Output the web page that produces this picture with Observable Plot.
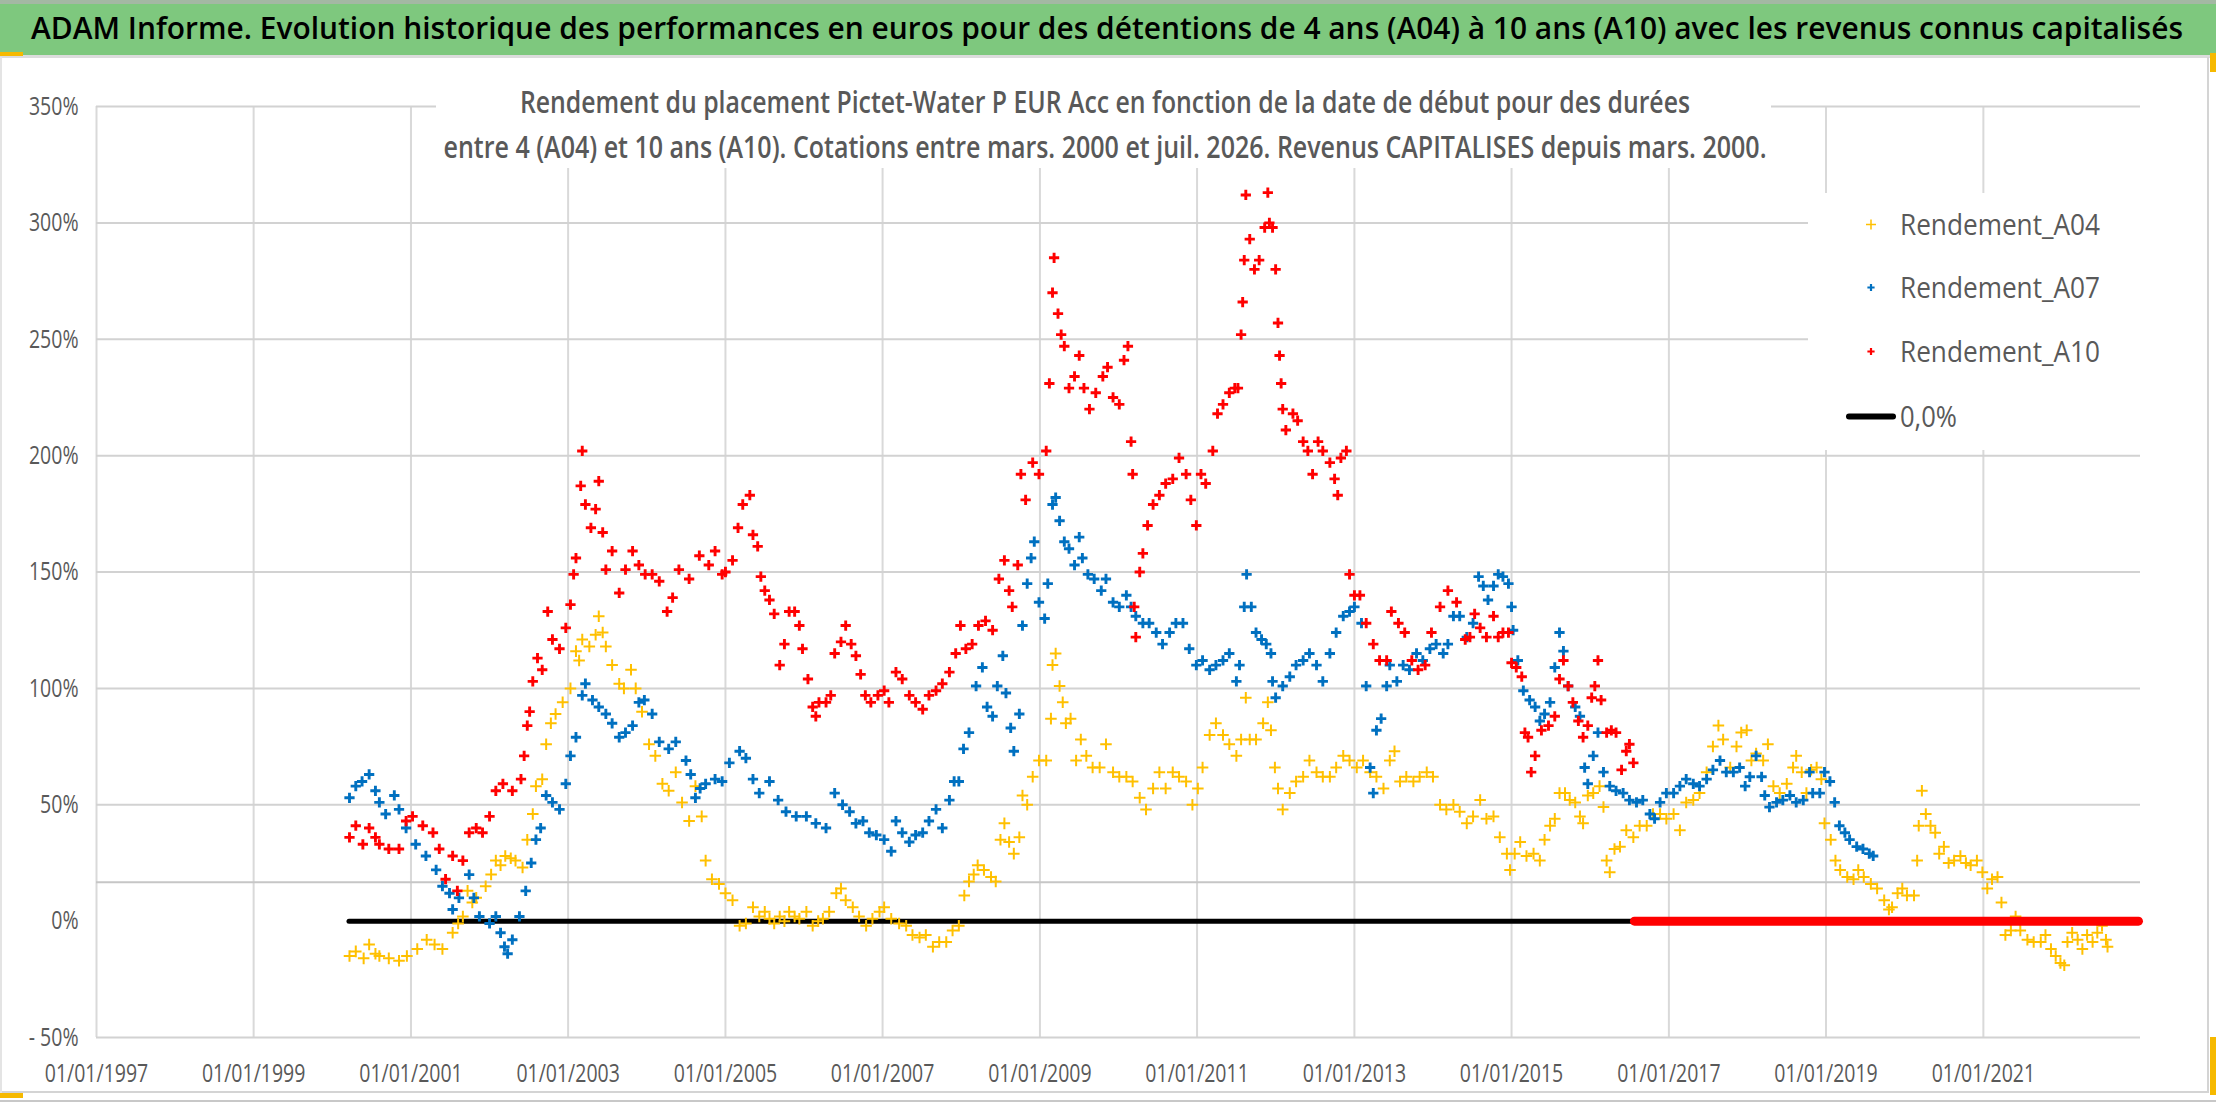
<!DOCTYPE html>
<html><head><meta charset="utf-8">
<script src="https://cdn.jsdelivr.net/npm/d3@7"></script>
<script src="https://cdn.jsdelivr.net/npm/@observablehq/plot@0.6"></script>
<style>
html,body{margin:0;padding:0;background:#fff;}
#wrap{position:relative;width:2216px;height:1102px;overflow:hidden;font-family:'Open Sans',sans-serif;background:#fff;}
#plot{position:absolute;left:0;top:58px;}
#ov{position:absolute;left:0;top:0;}
</style></head><body>
<div id="wrap">
<div id="plot"></div>
<svg id="ov" width="2216" height="1102" xmlns="http://www.w3.org/2000/svg" font-family="'Open Sans', sans-serif">
  <rect x="0" y="0" width="2216" height="4" fill="#a3b8a3"/>
  <rect x="0" y="4" width="2216" height="51" fill="#7ec87e"/>
  <rect x="0" y="55" width="2216" height="3" fill="#dcdcdc"/>
  <rect x="0" y="52" width="23" height="4" fill="#f6b900"/>
  <text id="title" x="1107" y="39" text-anchor="middle" font-size="30" font-weight="600" fill="#000" textLength="2152" lengthAdjust="spacingAndGlyphs">ADAM Informe. Evolution historique des performances en euros pour des détentions de 4 ans (A04) à 10 ans (A10) avec les revenus connus capitalisés</text>
  <rect x="436" y="60" width="1335" height="108" fill="#fff"/>
  <text x="1105" y="113" text-anchor="middle" font-size="30" font-weight="600" fill="#595959" textLength="1170" lengthAdjust="spacingAndGlyphs">Rendement du placement Pictet-Water P EUR Acc en fonction de la date de début pour des durées</text>
  <text x="1105" y="158" text-anchor="middle" font-size="30" font-weight="600" fill="#595959" textLength="1323" lengthAdjust="spacingAndGlyphs">entre 4 (A04) et 10 ans (A10). Cotations entre mars. 2000 et juil. 2026. Revenus CAPITALISES depuis mars. 2000.</text>
  <g id="legend"></g>
  <line x1="2208" y1="57" x2="2208" y2="1093" stroke="#d4d4d4" stroke-width="2"/>
  <line x1="0" y1="1092" x2="2208" y2="1092" stroke="#d4d4d4" stroke-width="2"/>
  <line x1="1" y1="57" x2="1" y2="1093" stroke="#e4e4e4" stroke-width="2"/>
  <rect x="0" y="1100" width="2216" height="2" fill="#c8c8c8"/>
  <rect x="2210" y="53" width="6" height="19" fill="#f6b900"/>
  <rect x="2210" y="1037" width="6" height="58" fill="#f6b900"/>
  <rect x="0" y="1093" width="23" height="5" fill="#f6b900"/>
</svg>
</div>
<script>
// ---------- DATA ----------
const xTickYears = [1997, 1999, 2001, 2003, 2005, 2007, 2009, 2011, 2013, 2015, 2017, 2019, 2021];
const yTicks = [-50, 0, 50, 100, 150, 200, 250, 300, 350];
const yGridValues = [-50, 50, 100, 150, 200, 250, 300, 350];
const refLineValue = [16.7];
const seriesNames = ["Rendement_A04", "Rendement_A07", "Rendement_A10", "0,0%"];
const seriesColors = ["#FFC000", "#0070C0", "#FF0000", "#000000"];

const a04Years = [2000.22,2000.30,2000.40,2000.47,2000.55,2000.60,2000.72,2000.85,2000.95,2001.08,2001.20,2001.30,2001.40,2001.53,2001.60,2001.66,2001.72,2001.78,2001.83,2001.95,2002.02,2002.08,2002.14,2002.20,2002.27,2002.33,2002.42,2002.48,2002.55,2002.59,2002.67,2002.72,2002.78,2002.84,2002.93,2003.03,2003.10,2003.14,2003.18,2003.27,2003.35,2003.39,2003.44,2003.48,2003.56,2003.65,2003.71,2003.80,2003.86,2003.94,2004.03,2004.11,2004.20,2004.28,2004.37,2004.45,2004.54,2004.62,2004.70,2004.75,2004.83,2004.92,2005.00,2005.09,2005.18,2005.26,2005.35,2005.43,2005.50,2005.56,2005.62,2005.69,2005.75,2005.81,2005.88,2005.94,2006.03,2006.11,2006.18,2006.24,2006.32,2006.41,2006.47,2006.53,2006.62,2006.70,2006.79,2006.87,2006.96,2007.02,2007.11,2007.21,2007.30,2007.38,2007.47,2007.55,2007.64,2007.72,2007.81,2007.89,2007.97,2008.04,2008.10,2008.16,2008.21,2008.29,2008.38,2008.44,2008.50,2008.55,2008.61,2008.67,2008.74,2008.78,2008.84,2008.91,2008.99,2009.08,2009.14,2009.16,2009.20,2009.25,2009.29,2009.33,2009.39,2009.46,2009.52,2009.59,2009.67,2009.76,2009.84,2009.93,2010.01,2010.10,2010.18,2010.27,2010.35,2010.44,2010.52,2010.60,2010.69,2010.77,2010.86,2010.94,2011.01,2011.07,2011.16,2011.24,2011.33,2011.41,2011.50,2011.56,2011.62,2011.67,2011.75,2011.84,2011.90,2011.94,2011.99,2012.03,2012.09,2012.18,2012.26,2012.35,2012.43,2012.52,2012.60,2012.69,2012.77,2012.86,2012.94,2013.03,2013.11,2013.20,2013.28,2013.37,2013.45,2013.51,2013.58,2013.66,2013.75,2013.83,2013.92,2014.00,2014.09,2014.17,2014.26,2014.34,2014.43,2014.51,2014.60,2014.68,2014.77,2014.85,2014.94,2014.98,2015.04,2015.11,2015.19,2015.28,2015.36,2015.42,2015.49,2015.55,2015.61,2015.68,2015.74,2015.81,2015.87,2015.91,2015.97,2016.04,2016.12,2016.17,2016.21,2016.25,2016.31,2016.38,2016.46,2016.55,2016.63,2016.72,2016.80,2016.89,2016.97,2017.06,2017.14,2017.22,2017.31,2017.39,2017.48,2017.56,2017.63,2017.69,2017.78,2017.86,2017.92,2017.99,2018.05,2018.11,2018.20,2018.26,2018.33,2018.41,2018.50,2018.58,2018.62,2018.69,2018.75,2018.81,2018.88,2018.94,2018.98,2019.06,2019.12,2019.18,2019.27,2019.35,2019.41,2019.48,2019.57,2019.65,2019.74,2019.80,2019.84,2019.91,2019.97,2020.03,2020.12,2020.16,2020.18,2020.22,2020.27,2020.33,2020.39,2020.44,2020.50,2020.56,2020.63,2020.71,2020.78,2020.84,2020.92,2020.99,2021.05,2021.11,2021.18,2021.23,2021.28,2021.35,2021.41,2021.47,2021.56,2021.64,2021.73,2021.79,2021.86,2021.92,2021.98,2022.03,2022.07,2022.13,2022.20,2022.26,2022.32,2022.39,2022.45,2022.51,2022.56,2022.58];
const a04Values = [-15,-13,-16,-10,-14,-15,-16,-17,-15,-12,-8,-10,-12,-5,-1,2,13,8,10,15,20,26,24,28,27,26,23,35,46,58,61,76,85,89,94,100,116,112,121,118,123,131,124,118,110,102,100,108,100,90,76,71,59,56,64,51,43,58,45,26,18,16,12,9,-2,-1,6,2,4,1,-1,2,0,4,2,1,4,-2,0,1,4,12,14,9,6,2,-2,1,4,6,1,-1,-2,-6,-7,-6,-11,-9,-9,-4,-2,11,17,20,24,22,19,17,35,42,34,29,36,54,50,62,69,69,87,110,115,101,94,85,87,69,78,71,66,66,76,64,62,62,60,53,48,57,64,57,64,62,60,50,57,66,80,85,80,76,71,78,96,78,78,85,94,82,66,57,48,55,60,62,69,64,62,62,66,71,69,66,69,64,62,57,69,73,60,62,60,62,64,62,50,48,50,47,42,45,52,44,45,36,29,22,29,34,28,29,26,35,41,44,55,55,52,51,45,42,54,55,58,49,26,21,31,32,39,36,41,41,46,46,44,46,39,51,52,55,64,75,84,78,66,75,81,82,69,72,69,76,58,55,59,66,71,64,55,65,66,61,42,35,26,22,19,18,22,19,16,14,9,5,6,12,14,11,11,26,41,56,46,41,38,29,32,25,26,28,25,24,26,21,14,18,19,8,-6,-4,2,-4,-8,-9,-9,-6,-12,-15,-18,-19,-9,-5,-8,-12,-6,-9,-5,-2,-8,-11];

const a07Years = [2000.22,2000.30,2000.38,2000.47,2000.55,2000.60,2000.68,2000.79,2000.85,2000.94,2001.06,2001.19,2001.32,2001.40,2001.49,2001.53,2001.61,2001.74,2001.80,2001.87,2002.00,2002.08,2002.14,2002.19,2002.23,2002.29,2002.38,2002.46,2002.53,2002.59,2002.65,2002.72,2002.80,2002.89,2002.97,2003.03,2003.10,2003.18,2003.22,2003.31,2003.39,2003.48,2003.56,2003.65,2003.73,2003.82,2003.90,2003.97,2004.07,2004.16,2004.28,2004.37,2004.50,2004.56,2004.62,2004.68,2004.75,2004.87,2004.96,2005.05,2005.18,2005.26,2005.35,2005.43,2005.56,2005.67,2005.77,2005.90,2006.03,2006.15,2006.28,2006.39,2006.49,2006.58,2006.66,2006.75,2006.83,2006.92,2007.02,2007.11,2007.17,2007.25,2007.34,2007.42,2007.51,2007.59,2007.68,2007.76,2007.85,2007.91,2007.97,2008.03,2008.10,2008.19,2008.27,2008.33,2008.40,2008.46,2008.53,2008.57,2008.63,2008.67,2008.74,2008.78,2008.84,2008.89,2008.93,2008.99,2009.06,2009.10,2009.16,2009.20,2009.25,2009.31,2009.37,2009.44,2009.50,2009.54,2009.61,2009.69,2009.78,2009.84,2009.93,2010.01,2010.10,2010.16,2010.22,2010.31,2010.39,2010.48,2010.56,2010.65,2010.73,2010.82,2010.90,2010.99,2011.07,2011.16,2011.24,2011.33,2011.41,2011.50,2011.54,2011.60,2011.63,2011.69,2011.75,2011.82,2011.88,2011.94,2011.96,2012.00,2012.09,2012.18,2012.26,2012.35,2012.43,2012.52,2012.60,2012.69,2012.77,2012.86,2012.94,2013.00,2013.09,2013.15,2013.20,2013.24,2013.28,2013.34,2013.41,2013.45,2013.54,2013.62,2013.70,2013.79,2013.87,2013.96,2014.04,2014.13,2014.19,2014.26,2014.34,2014.43,2014.51,2014.58,2014.64,2014.70,2014.77,2014.83,2014.89,2014.96,2015.00,2015.02,2015.08,2015.15,2015.23,2015.30,2015.36,2015.42,2015.49,2015.55,2015.61,2015.66,2015.72,2015.81,2015.87,2015.93,2015.97,2016.04,2016.10,2016.17,2016.25,2016.33,2016.42,2016.50,2016.59,2016.67,2016.76,2016.82,2016.89,2016.97,2017.06,2017.14,2017.22,2017.31,2017.39,2017.48,2017.56,2017.65,2017.73,2017.82,2017.90,2017.97,2018.03,2018.11,2018.18,2018.22,2018.28,2018.37,2018.45,2018.54,2018.62,2018.71,2018.79,2018.83,2018.92,2018.98,2019.05,2019.11,2019.17,2019.24,2019.30,2019.39,2019.47,2019.55,2019.60];
const a07Values = [53,58,60,63,56,51,46,54,48,40,33,28,22,15,12,5,10,20,10,2,-1,2,-5,-11,-14,-8,2,13,25,35,40,54,51,48,59,71,79,97,102,95,92,89,85,79,81,84,94,95,89,77,74,77,69,63,53,57,59,61,60,68,73,70,61,55,60,52,47,45,45,42,40,55,50,47,42,43,38,37,35,30,43,38,34,37,38,43,48,40,52,60,60,74,81,101,109,92,88,101,114,98,83,73,89,127,145,156,163,137,130,145,179,182,172,163,160,153,165,156,149,147,142,147,137,135,140,135,131,128,128,124,119,124,128,128,117,110,112,108,110,112,115,103,110,135,149,135,124,121,119,115,103,96,101,105,110,112,115,110,103,115,124,131,133,135,128,101,66,55,82,87,101,110,103,110,108,115,112,117,119,115,119,131,131,122,128,148,144,138,144,149,148,145,135,125,112,99,95,92,86,89,94,109,124,116,101,92,88,66,59,71,81,64,58,56,55,52,51,52,46,44,51,55,55,58,61,59,58,61,65,69,64,64,66,58,62,71,62,54,49,51,52,54,51,52,64,55,55,64,60,51,41,38,35,32,31,29,28];

const a10Years = [2000.22,2000.30,2000.39,2000.47,2000.55,2000.60,2000.72,2000.85,2000.94,2001.02,2001.15,2001.28,2001.36,2001.44,2001.53,2001.59,2001.66,2001.74,2001.83,2001.91,2002.00,2002.08,2002.17,2002.29,2002.40,2002.44,2002.48,2002.51,2002.55,2002.61,2002.67,2002.74,2002.80,2002.89,2002.97,2003.03,2003.07,2003.10,2003.16,2003.18,2003.22,2003.29,2003.35,2003.39,2003.44,2003.48,2003.56,2003.65,2003.73,2003.82,2003.90,2003.98,2004.07,2004.16,2004.26,2004.33,2004.41,2004.54,2004.67,2004.79,2004.87,2004.96,2005.00,2005.09,2005.16,2005.22,2005.31,2005.35,2005.41,2005.45,2005.50,2005.56,2005.62,2005.69,2005.75,2005.81,2005.88,2005.94,2005.98,2006.05,2006.11,2006.15,2006.19,2006.28,2006.34,2006.39,2006.47,2006.53,2006.60,2006.66,2006.72,2006.78,2006.85,2006.94,2007.02,2007.08,2007.17,2007.25,2007.34,2007.42,2007.51,2007.59,2007.68,2007.76,2007.85,2007.93,2007.99,2008.06,2008.14,2008.22,2008.31,2008.40,2008.48,2008.55,2008.61,2008.65,2008.72,2008.76,2008.82,2008.91,2008.99,2009.08,2009.12,2009.16,2009.18,2009.23,2009.27,2009.31,2009.37,2009.44,2009.50,2009.56,2009.63,2009.71,2009.80,2009.86,2009.93,2010.01,2010.07,2010.12,2010.16,2010.18,2010.20,2010.22,2010.27,2010.31,2010.37,2010.44,2010.52,2010.60,2010.69,2010.77,2010.86,2010.92,2010.99,2011.05,2011.11,2011.20,2011.26,2011.33,2011.41,2011.48,2011.52,2011.56,2011.58,2011.60,2011.62,2011.67,2011.73,2011.79,2011.86,2011.90,2011.92,2011.96,2012.00,2012.03,2012.05,2012.07,2012.09,2012.13,2012.22,2012.28,2012.35,2012.41,2012.47,2012.54,2012.60,2012.69,2012.75,2012.79,2012.83,2012.90,2012.94,2013.00,2013.07,2013.15,2013.24,2013.32,2013.41,2013.47,2013.56,2013.64,2013.73,2013.81,2013.90,2013.98,2014.09,2014.19,2014.30,2014.41,2014.47,2014.53,2014.60,2014.68,2014.77,2014.83,2014.89,2014.96,2015.00,2015.06,2015.13,2015.17,2015.21,2015.25,2015.30,2015.38,2015.47,2015.55,2015.61,2015.66,2015.72,2015.78,2015.85,2015.91,2015.97,2016.02,2016.06,2016.10,2016.14,2016.21,2016.27,2016.33,2016.40,2016.46,2016.50,2016.55];
const a10Values = [36,41,33,40,36,33,31,31,43,45,41,38,31,18,28,13,26,38,40,38,45,56,59,56,61,71,84,90,103,113,108,133,121,117,126,136,149,156,187,202,179,169,177,189,167,151,159,141,151,159,153,149,149,146,133,139,151,147,157,153,159,149,150,155,169,179,183,166,161,148,142,138,132,110,119,133,133,127,117,104,92,88,94,94,97,115,120,127,119,114,106,97,94,97,99,94,107,104,97,94,91,97,99,102,107,115,127,117,119,127,129,125,147,155,142,135,153,192,181,197,192,202,231,270,285,261,252,247,229,234,243,229,220,227,234,238,225,222,241,247,206,192,135,122,150,158,170,179,183,188,190,199,192,181,170,192,188,202,218,222,227,229,229,252,266,284,312,293,280,284,298,313,300,298,280,257,243,231,220,211,218,215,206,202,192,206,202,197,190,183,199,202,149,140,140,128,119,112,112,133,128,124,112,108,110,124,135,142,137,121,122,132,126,122,131,122,124,124,111,109,105,81,79,64,71,82,84,88,104,112,101,94,86,79,84,96,101,112,95,81,82,81,65,73,76,68];
// A10 has no 10-year window after mid-2016: plotted as 0 % up to the last start date
const a10ZeroSpan = [2016.57, 2022.98];
// "0,0%" reference line
const zeroLineSpan = [2000.22, 2022.98];

// ---------- helpers ----------
const toDate = (y) => { const f = Math.floor(y); return new Date(Date.UTC(f, 0, 1) + (y - f) * 365.25 * 864e5); };
const rows = (ys, vs) => ys.map((y, i) => ({date: toDate(y), v: vs[i]}));
const a04 = rows(a04Years, a04Values);
const a07 = rows(a07Years, a07Values);
const a10 = rows(a10Years, a10Values);
const zeroLine = [{v: 0, from: toDate(zeroLineSpan[0]), to: toDate(zeroLineSpan[1])}];
const a10Zero = [{v: 0, from: toDate(a10ZeroSpan[0]), to: toDate(a10ZeroSpan[1])}];
const xTicks = xTickYears.map(toDate);
const yFmt = (d) => d < 0 ? `- ${-d}%` : `${d}%`;

const chart = Plot.plot({
  width: 2216,
  height: 1036,
  marginTop: 48,
  marginBottom: 57,
  marginLeft: 96,
  marginRight: 76,
  style: {fontFamily: "'Open Sans', sans-serif", fontSize: "26px", color: "#595959", background: "transparent", overflow: "visible"},
  x: {type: "utc", domain: [toDate(1997), toDate(2023)], ticks: xTicks, tickFormat: (d) => `01/01/${d.getUTCFullYear()}`, tickSize: 0, tickPadding: 26, label: null},
  y: {domain: [-50, 350], ticks: yTicks, tickFormat: yFmt, tickSize: 0, tickPadding: 18, label: null},
  marks: [
    Plot.ruleX(xTicks, {stroke: "#d9d9d9", strokeWidth: 2}),
    Plot.ruleY(yGridValues, {stroke: "#d2d2d2", strokeWidth: 2}),
    Plot.ruleY(refLineValue, {stroke: "#c6c6c6", strokeWidth: 2}),
    Plot.ruleY(zeroLine, {y: "v", x1: "from", x2: "to", stroke: seriesColors[3], strokeWidth: 5, strokeLinecap: "round"}),
    Plot.dot(a04, {x: "date", y: "v", symbol: "plus", r: 3.8, fill: "none", stroke: seriesColors[0], strokeWidth: 2}),
    Plot.dot(a07, {x: "date", y: "v", symbol: "plus", r: 3.4, fill: "none", stroke: seriesColors[1], strokeWidth: 2.9}),
    Plot.dot(a10, {x: "date", y: "v", symbol: "plus", r: 3.4, fill: "none", stroke: seriesColors[2], strokeWidth: 2.9}),
    Plot.ruleY(a10Zero, {y: "v", x1: "from", x2: "to", stroke: seriesColors[2], strokeWidth: 9, strokeLinecap: "round"})
  ]
});
document.getElementById("plot").appendChild(chart);

// narrow the tick label glyphs (Calibri-like condensed look)
chart.querySelectorAll("text").forEach((t) => {
  const x0 = parseFloat(t.getAttribute("x")) || 0;
  const tr = t.getAttribute("transform") || "";
  t.setAttribute("transform", `${tr} translate(${x0},0) scale(0.75,1) translate(${-x0},0)`);
});

// ---------- legend ----------
const ns = "http://www.w3.org/2000/svg";
const lg = document.getElementById("legend");
const mk = (tag, attrs, txt) => { const e = document.createElementNS(ns, tag); for (const k in attrs) e.setAttribute(k, attrs[k]); if (txt) e.textContent = txt; lg.appendChild(e); return e; };
mk("rect", {x: 1808, y: 193, width: 332, height: 257, fill: "#fff"});
const legBase = [235, 298, 362, 427];
const legWidths = [200, 200, 200, 57];
const legMarkHalf = [5, 3.6, 3.6];
const legMarkStroke = [1.5, 2.2, 2.2];
seriesNames.forEach((name, i) => {
  const cy = legBase[i] - 10.5;
  if (i < 3) {
    const h = legMarkHalf[i];
    mk("path", {d: `M${1871 - h},${cy}H${1871 + h}M1871,${cy - h}V${cy + h}`, stroke: seriesColors[i], "stroke-width": legMarkStroke[i], fill: "none"});
  } else {
    mk("line", {x1: 1849, x2: 1893, y1: cy, y2: cy, stroke: seriesColors[i], "stroke-width": 6, "stroke-linecap": "round"});
  }
  mk("text", {x: 1900, y: legBase[i], "font-size": 30, fill: "#595959", textLength: legWidths[i], lengthAdjust: "spacingAndGlyphs"}, name);
});
</script>
</body></html>
